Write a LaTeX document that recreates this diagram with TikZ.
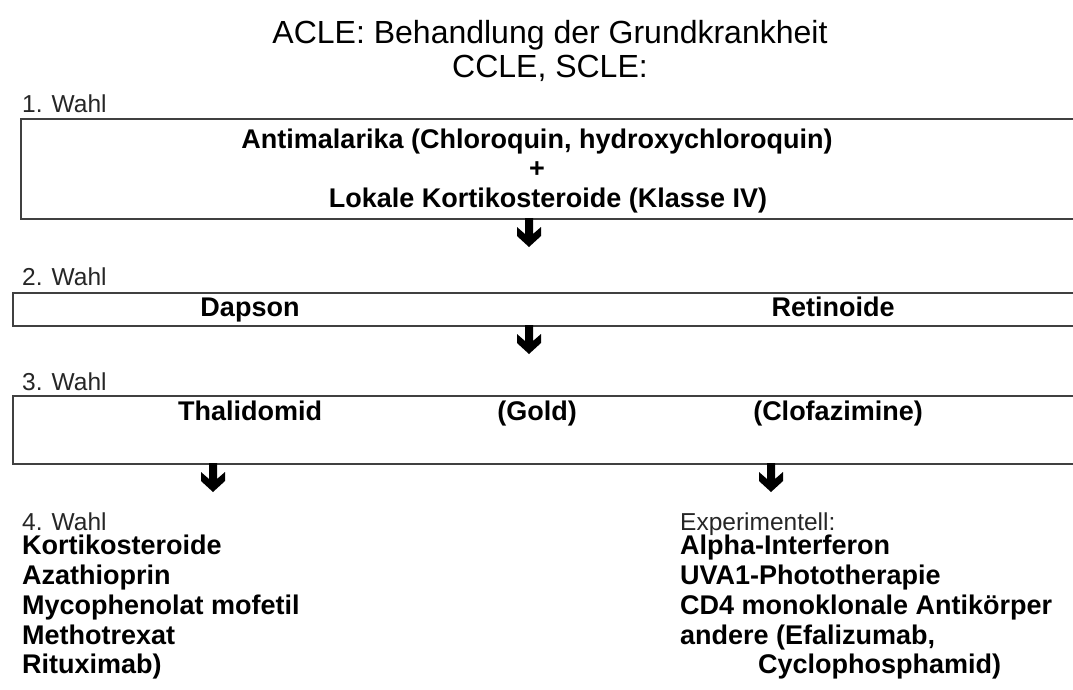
\documentclass[tikz,border=0pt]{standalone}
\usepackage{fontspec}
\setmainfont{Liberation Sans}
\begin{document}
\begin{tikzpicture}[x=1pt,y=-1pt,
  box/.style={draw=black!75,line width=1.6pt,minimum height=#1,minimum width=1075pt,anchor=north west,inner sep=0pt},
  ttl/.style={font=\fontsize{32}{34}\selectfont,align=center,inner sep=0pt},
  lbl/.style={font=\fontsize{24.5}{28}\selectfont,anchor=base west,inner sep=0pt,text=black!85},
  bt/.style={font=\fontsize{27}{29.5}\selectfont\bfseries,anchor=base,inner sep=0pt},
  lst/.style={font=\fontsize{27}{29.8}\selectfont\bfseries,align=left,anchor=north west,inner sep=0pt},
  barrow/.pic={\fill[black] (-4,0) -- (4,0) -- (4,16) -- (12,9) -- (12,18) -- (0,29) -- (-12,18) -- (-12,9) -- (-4,16) -- cycle;}
]
\useasboundingbox (0,0) rectangle (1073,689);
\fill[white] (0,0) rectangle (1073,689);

\node[ttl,anchor=north] (title) at (550,20) {ACLE: Behandlung der Grundkrankheit\\CCLE, SCLE:};

\node[lbl] (w1) at (22,112) {1. Wahl};
\node[box=100pt] (b1) at (20,118) {};
\node[bt] (t1a) at (537,148) {Antimalarika (Chloroquin, hydroxychloroquin)};
\node[bt] (t1b) at (537,177) {+};
\node[bt] (t1c) at (548,207) {Lokale Kortikosteroide (Klasse IV)};

\coordinate (a1) at (529,218);
\pic at (a1) {barrow};

\node[lbl] (w2) at (22,285) {2. Wahl};
\node[box=33pt] (b2) at (12,292) {};
\node[bt] (t2a) at (250,316) {Dapson};
\node[bt] (t2b) at (833,316) {Retinoide};

\coordinate (a2) at (529,325);
\pic at (a2) {barrow};

\node[lbl] (w3) at (22,390) {3. Wahl};
\node[box=68pt] (b3) at (12,395) {};
\node[bt] (t3a) at (250,420) {Thalidomid};
\node[bt] (t3b) at (537,420) {(Gold)};
\node[bt] (t3c) at (838,420) {(Clofazimine)};

\coordinate (a3) at (213,463);
\pic at (a3) {barrow};
\coordinate (a4) at (771,463);
\pic at (a4) {barrow};

\node[lbl] (w4) at (22,530) {4. Wahl};
\node[lst] (l4) at (22,535) {Kortikosteroide\\Azathioprin\\Mycophenolat mofetil\\Methotrexat\\Rituximab)};

\node[lbl] (ex) at (680,530) {Experimentell:};
\node[lst] (lex) at (680,535) {Alpha-Interferon\\UVA1-Phototherapie\\CD4 monoklonale Antikörper\\andere (Efalizumab,\\\hspace*{78pt}Cyclophosphamid)};
\end{tikzpicture}
\end{document}
